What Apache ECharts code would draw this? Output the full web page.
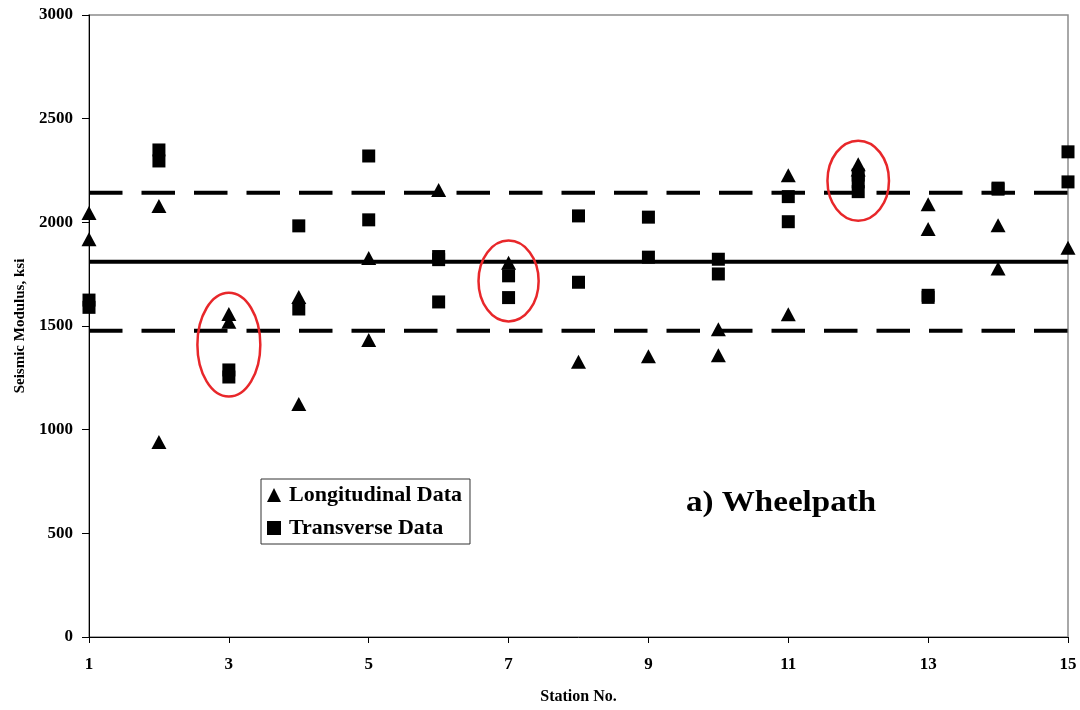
<!DOCTYPE html>
<html>
<head>
<meta charset="utf-8">
<script src="https://cdn.jsdelivr.net/npm/echarts@6/dist/echarts.min.js"></script>
<style>
  html, body { margin: 0; padding: 0; background: #fff; }
  #chart { width: 1080px; height: 710px; }
</style>
</head>
<body>
<div id="chart"></div>
<script>
// Seismic modulus (ksi) measured at each station along the wheelpath
const longitudinal = [
  [1, 2045], [1, 1918],
  [2, 2079], [2, 941],
  [3, 1558], [3, 1520],
  [4, 1640], [4, 1124],
  [5, 1828], [5, 1433],
  [6, 2156],
  [7, 1805],
  [8, 1328],
  [9, 1354],
  [10, 1484], [10, 1359],
  [11, 2227], [11, 1557],
  [12, 2280], [12, 2255],
  [13, 2087], [13, 1968],
  [14, 1986], [14, 1777],
  [15, 1878]
];
const transverse = [
  [1, 1625], [1, 1590],
  [2, 2349], [2, 2296],
  [3, 1288], [3, 1254],
  [4, 1983], [4, 1582],
  [5, 2320], [5, 2012],
  [6, 1835], [6, 1820], [6, 1616],
  [7, 1742], [7, 1637],
  [8, 2031], [8, 1711],
  [9, 2025], [9, 1832],
  [10, 1822], [10, 1751],
  [11, 2124], [11, 2003],
  [12, 2228], [12, 2195], [12, 2148],
  [13, 1648], [13, 1638],
  [14, 2165], [14, 2160],
  [15, 2340], [15, 2195]
];
// Mean and mean ± one standard deviation
const meanValue = 1810;
const upperBound = 2143;
const lowerBound = 1477;
const stationRange = [1, 15];
// Highlighted stations: [station, centre value, half-width (stations), half-height (ksi)]
const highlights = [
  [3, 1410, 0.45, 250],
  [7, 1717, 0.43, 195],
  [12, 2201, 0.44, 193]
];

const serif = 'Liberation Serif';
const chart = echarts.init(document.getElementById('chart'));

const hLine = (v) => stationRange.map(s => [s, v]);

chart.setOption({
  backgroundColor: '#fff',
  animation: false,
  grid: {
    left: 89, right: 12, top: 15, bottom: 73,
    show: true, borderColor: '#8c8c8c', borderWidth: 1.5, backgroundColor: 'transparent'
  },
  xAxis: {
    type: 'value', min: 1, max: 15, interval: 2,
    name: 'Station No.', nameLocation: 'middle', nameGap: 52,
    nameTextStyle: { fontFamily: serif, fontWeight: 'bold', fontSize: 16, color: '#000' },
    axisLine: { lineStyle: { color: '#000', width: 1 } },
    axisTick: { show: true, length: 6, lineStyle: { color: '#000' } },
    axisLabel: { fontFamily: serif, fontWeight: 'bold', fontSize: 17, color: '#000', margin: 19 },
    splitLine: { show: false }
  },
  yAxis: {
    type: 'value', min: 0, max: 3000, interval: 500,
    name: 'Seismic Modulus, ksi', nameLocation: 'middle', nameGap: 61,
    nameTextStyle: { fontFamily: serif, fontWeight: 'bold', fontSize: 15, color: '#000' },
    axisLine: { show: true, lineStyle: { color: '#000', width: 1 } },
    axisTick: { show: true, length: 7, lineStyle: { color: '#000' } },
    axisLabel: {
      fontFamily: serif, fontWeight: 'bold', fontSize: 17, color: '#000', margin: 16,
      formatter: (v) => String(v)
    },
    splitLine: { show: false }
  },
  legend: {
    left: 261, top: 479, orient: 'vertical',
    itemGap: 11, itemWidth: 14, itemHeight: 14,
    padding: [5, 8, 5, 6],
    borderColor: '#333', borderWidth: 1,
    textStyle: { fontFamily: serif, fontWeight: 'bold', fontSize: 22, color: '#000', padding: [0, 0, 0, 3] },
    data: [
      { name: 'Longitudinal Data', icon: 'triangle' },
      { name: 'Transverse Data', icon: 'rect' }
    ]
  },
  graphic: [{
    type: 'text', x: 686, y: 489, scaleX: 1.14,
    style: { text: 'a) Wheelpath', font: 'bold 29px "Liberation Serif"', fill: '#000' }
  }],
  series: [
    {
      name: 'mean', type: 'line', data: hLine(meanValue), symbol: 'none',
      lineStyle: { color: '#000', width: 4 }, silent: true, z: 1
    },
    {
      name: 'upper', type: 'line', data: hLine(upperBound), symbol: 'none',
      lineStyle: { color: '#000', width: 4, type: [33.5, 19] }, silent: true, z: 1
    },
    {
      name: 'lower', type: 'line', data: hLine(lowerBound), symbol: 'none',
      lineStyle: { color: '#000', width: 4, type: [33.5, 19] }, silent: true, z: 1
    },
    {
      name: 'Transverse Data', type: 'scatter', data: transverse,
      symbol: 'rect', symbolSize: 13, itemStyle: { color: '#000', opacity: 1 }, z: 3
    },
    {
      name: 'Longitudinal Data', type: 'scatter', data: longitudinal,
      symbol: 'triangle', symbolSize: [15, 14], itemStyle: { color: '#000', opacity: 1 }, z: 4
    },
    {
      name: 'highlight', type: 'custom', data: highlights, silent: true, z: 5,
      renderItem: function (params, api) {
        const c = api.coord([api.value(0), api.value(1)]);
        const s = api.size([api.value(2), api.value(3)]);
        return {
          type: 'ellipse',
          shape: { cx: c[0], cy: c[1], rx: s[0], ry: s[1] },
          style: { fill: 'none', stroke: '#e8272a', lineWidth: 2.5 }
        };
      }
    }
  ]
});
</script>
</body>
</html>
